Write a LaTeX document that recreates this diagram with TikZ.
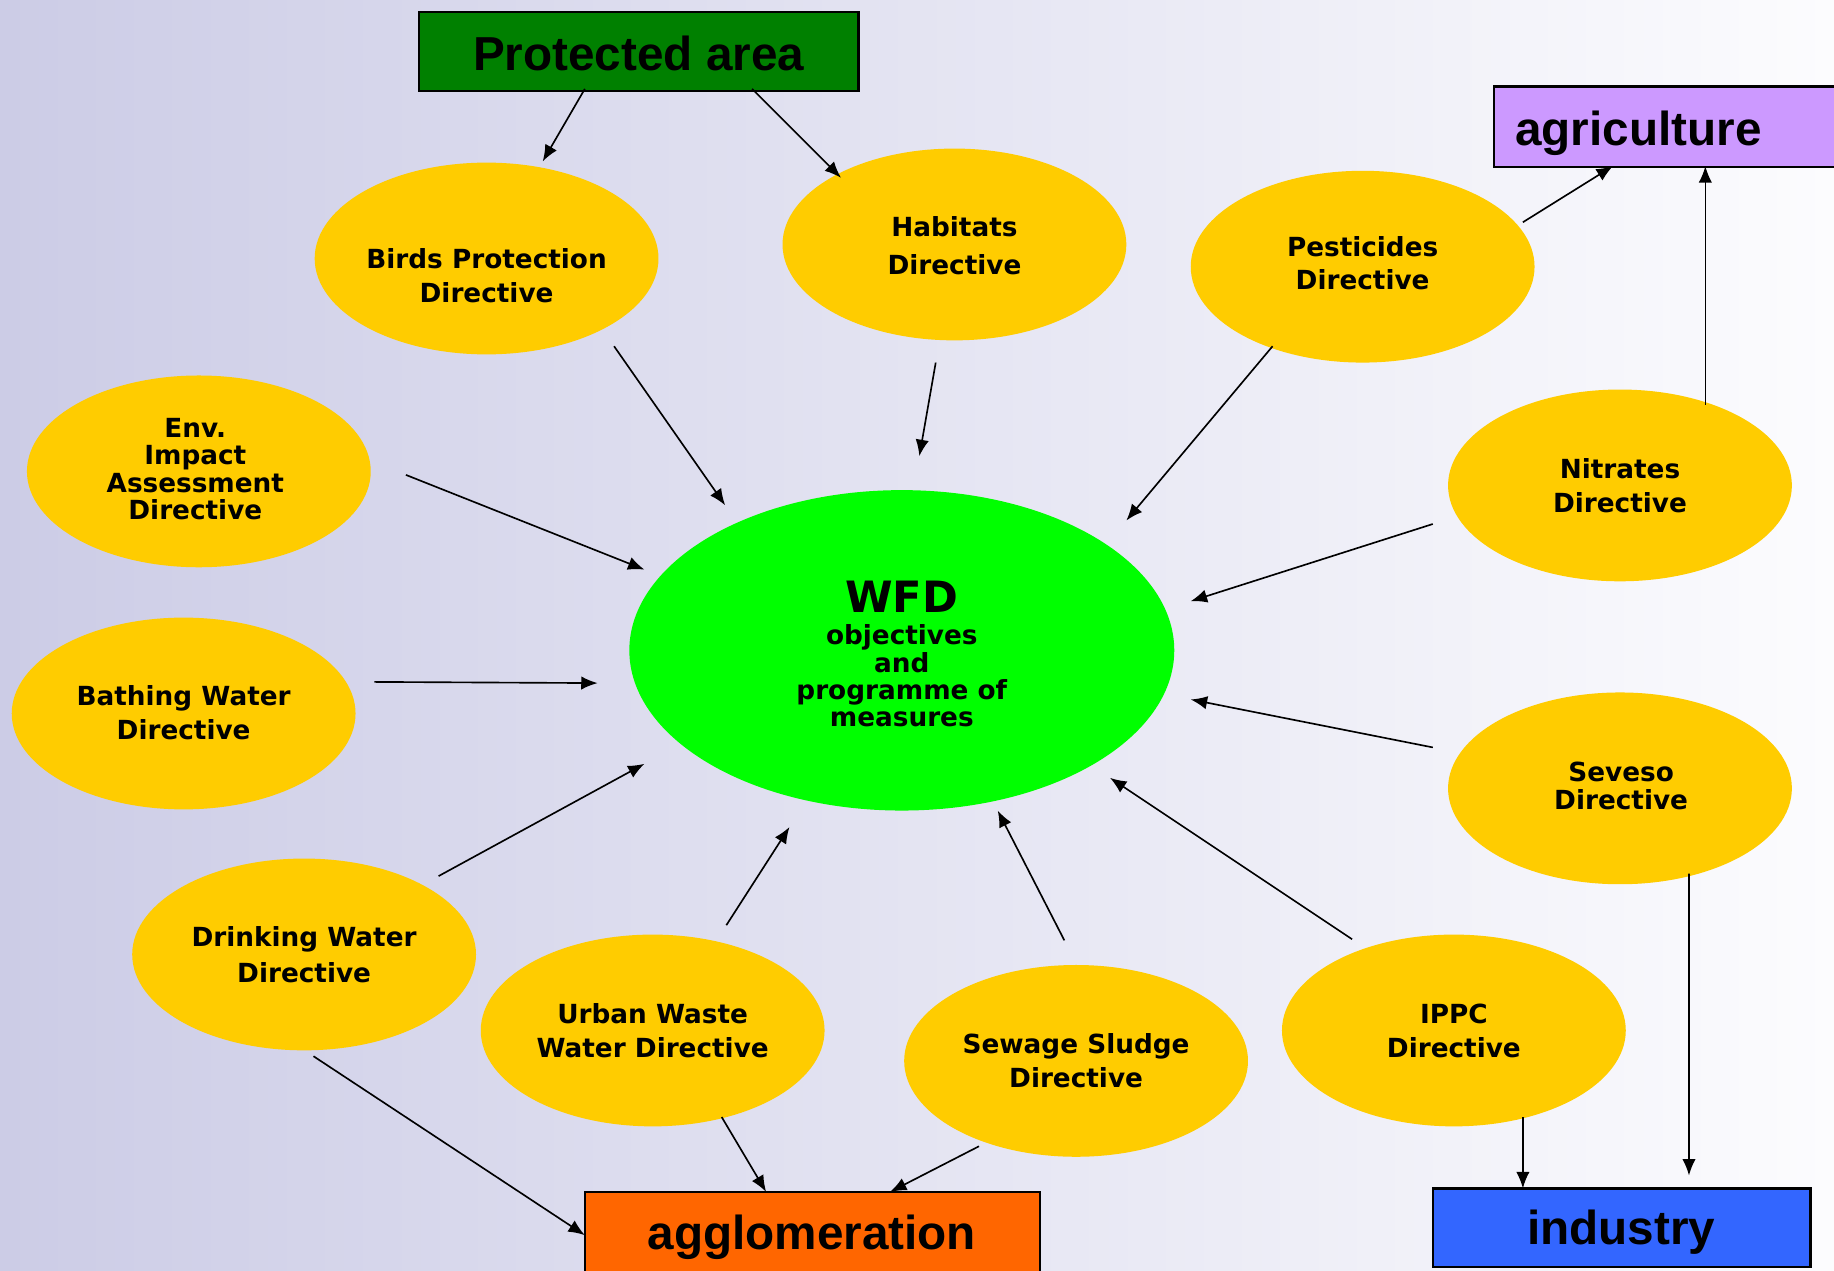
\documentclass[tikz,border=0pt]{standalone}
\usepackage{fontspec}
\setmainfont{DejaVu Sans}
\newfontfamily\boxfont{Liberation Sans}
\usetikzlibrary{shapes.geometric,arrows.meta,calc}
\definecolor{bgL}{RGB}{204,204,230}
\definecolor{bgR}{RGB}{252,252,254}
\definecolor{yel}{RGB}{255,204,0}
\definecolor{wfdgreen}{RGB}{0,255,0}
\definecolor{protgreen}{RGB}{0,128,0}
\definecolor{agripurple}{RGB}{204,153,255}
\definecolor{agglorange}{RGB}{255,102,0}
\definecolor{indblue}{RGB}{51,102,255}
\begin{document}
\begin{tikzpicture}[x=0.02cm,y=-0.02cm,
  ell/.style={ellipse, fill=yel, minimum width=5.88cm, minimum height=3.28cm, inner sep=0pt},
  etxt/.style={font=\bfseries\fontsize{12.8}{16.5}\selectfont, align=center, inner sep=0pt},
  etxttight/.style={font=\bfseries\fontsize{12.8}{13.3}\selectfont, align=center, inner sep=0pt},
  box/.style={draw=black, line width=1.1pt, inner sep=0pt},
  btxt/.style={font=\boxfont\bfseries\fontsize{23.2}{28}\selectfont, inner sep=0pt, anchor=base},
  arr/.style={-{Latex[length=8pt,width=6.5pt]}, line width=0.8pt}]
\useasboundingbox (0,0) rectangle (1568,1086);
\shade[left color=bgL, right color=bgR] (0,0) rectangle (1568,1086);

% boxes
\node[box, fill=protgreen, minimum width=7.52cm, minimum height=1.36cm] (prot) at (546,44) {};
\node[btxt] (protT) at (546,60.5) {Protected area};
\node[box, fill=agripurple, minimum width=6.44cm, minimum height=1.38cm] (agri) at (1438,108.5) {};
\node[btxt, anchor=base west] (agriT) at (1295,124) {agriculture};
\node[box, fill=agglorange, minimum width=7.78cm, minimum height=1.62cm] (aggl) at (694.5,1059.5) {};
\node[btxt] (agglT) at (694,1068) {agglomeration};
\node[box, fill=indblue, minimum width=6.46cm, minimum height=1.34cm] (ind) at (1386.5,1049.5) {};
\node[btxt] (indT) at (1386,1064) {industry};

% central ellipse
\node[ellipse, fill=wfdgreen, minimum width=9.32cm, minimum height=5.48cm, inner sep=0pt] (wfd) at (771,556) {};
\node[font=\bfseries\fontsize{21}{24}\selectfont, inner sep=0pt] (wfdT) at (771,510) {WFD};
\node[etxttight] (wfdS) at (771,578) {objectives\\and\\programme of\\measures};

% directive ellipses
\node[ell] (birds) at (416,221) {};
\node[etxt] (birdsT) at (416,236) {Birds Protection\\Directive};
\node[ell] (hab) at (816,209) {};
\node[etxt, font=\bfseries\fontsize{12.8}{18.2}\selectfont] (habT) at (816,210) {Habitats\\Directive};
\node[ell] (pest) at (1165,228) {};
\node[etxt] (pestT) at (1165,225) {Pesticides\\Directive};
\node[ell] (env) at (170,403) {};
\node[etxttight] (envT) at (167,401) {Env.\\Impact\\Assessment\\Directive};
\node[ell] (nit) at (1385,415) {};
\node[etxt] (nitT) at (1385,415) {Nitrates\\Directive};
\node[ell] (bath) at (157,610) {};
\node[etxt] (bathT) at (157,609) {Bathing Water\\Directive};
\node[ell] (sev) at (1385,674) {};
\node[etxttight] (sevT) at (1386,672) {Seveso\\Directive};
\node[ell] (drink) at (260,816) {};
\node[etxt, font=\bfseries\fontsize{12.8}{17.6}\selectfont] (drinkT) at (260,816) {Drinking Water\\Directive};
\node[ell] (urban) at (558,881) {};
\node[etxt] (urbanT) at (558,881) {Urban Waste\\Water Directive};
\node[ell] (sew) at (920,907) {};
\node[etxt] (sewT) at (920,907) {Sewage Sludge\\Directive};
\node[ell] (ippc) at (1243,881) {};
\node[etxt] (ippcT) at (1243,881) {IPPC\\Directive};

% connectors
\draw[arr] ($(prot)+(-46,32)$) -- ($(birds)+(48,-83)$);
\draw[arr] ($(prot)+(97,32)$) -- ($(hab)+(-97,-57)$);
\draw[arr] ($(birds)+(109,75)$) -- ($(wfd)+(-151,-124)$);
\draw[arr] ($(hab)+(-16,101)$) -- ($(wfd)+(15,-166)$);
\draw[arr] ($(pest)+(-77,68)$) -- ($(wfd)+(192,-111)$);
\draw[arr] ($(pest)+(137,-38)$) -- ($(agri)+(-59,33.5)$);
\draw[arr] ($(nit)+(73,-69)$) -- ($(agri)+(20,33.5)$);
\draw[arr] ($(env)+(177,3)$) -- ($(wfd)+(-220,-69)$);
\draw[arr] ($(nit)+(-160,33)$) -- ($(wfd)+(247,-42)$);
\draw[arr] ($(bath)+(163,-27)$) -- ($(wfd)+(-260,28)$);
\draw[arr] ($(sev)+(-160,-35)$) -- ($(wfd)+(247,42)$);
\draw[arr] ($(drink)+(115,-67)$) -- ($(wfd)+(-220,97)$);
\draw[arr] ($(urban)+(63,-90)$) -- ($(wfd)+(-96,151)$);
\draw[arr] ($(sew)+(-10,-103)$) -- ($(wfd)+(82,137)$);
\draw[arr] ($(ippc)+(-87,-78)$) -- ($(wfd)+(178,109)$);
\draw[arr] ($(drink)+(8,87)$) -- ($(aggl)+(-194.5,-3.5)$);
\draw[arr] ($(urban)+(59,74)$) -- ($(aggl)+(-39.5,-40.5)$);
\draw[arr] ($(sew)+(-83,73)$) -- ($(aggl)+(66.5,-40.5)$);
\draw[arr] ($(ippc)+(59,74)$) -- ($(ind)+(-84.5,-33.5)$);
\draw[arr] ($(sev)+(59,73)$) -- ($(ind)+(57.5,-44.5)$);
\end{tikzpicture}
\end{document}
